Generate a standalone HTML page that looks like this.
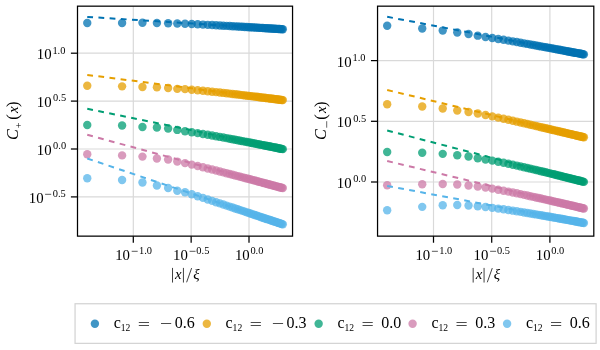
<!DOCTYPE html>
<html><head><meta charset="utf-8"><style>
html,body{margin:0;padding:0;background:#fff;width:600px;height:350px;overflow:hidden;position:relative;font-family:"Liberation Serif",serif;}
svg text{font-family:"Liberation Serif",serif;fill:#000;}
svg{will-change:transform;}
</style></head><body>
<svg width="600" height="350" viewBox="0 0 600 350" style="position:absolute;left:0;top:0">
<defs><clipPath id="clipL"><rect x="77.5" y="6.17" width="215.05" height="229.97"/></clipPath></defs>
<g stroke="#d9d9d9" stroke-width="1.2"><line x1="133.30" y1="6.17" x2="133.30" y2="236.14"/><line x1="191.15" y1="6.17" x2="191.15" y2="236.14"/><line x1="249.00" y1="6.17" x2="249.00" y2="236.14"/><line x1="77.5" y1="196.90" x2="292.55" y2="196.90"/><line x1="77.5" y1="149.00" x2="292.55" y2="149.00"/><line x1="77.5" y1="101.10" x2="292.55" y2="101.10"/><line x1="77.5" y1="53.20" x2="292.55" y2="53.20"/></g>
<g clip-path="url(#clipL)">
<g fill="#0072b2" fill-opacity="0.75"><circle cx="87.26" cy="23.00" r="4.2"/><circle cx="122.09" cy="22.99" r="4.2"/><circle cx="142.46" cy="22.77" r="4.2"/><circle cx="156.92" cy="22.98" r="4.2"/><circle cx="168.13" cy="23.29" r="4.2"/><circle cx="177.29" cy="23.56" r="4.2"/><circle cx="185.04" cy="23.75" r="4.2"/><circle cx="191.75" cy="24.04" r="4.2"/><circle cx="197.66" cy="24.32" r="4.2"/><circle cx="202.96" cy="24.59" r="4.2"/><circle cx="207.75" cy="24.83" r="4.2"/><circle cx="212.12" cy="25.07" r="4.2"/><circle cx="216.14" cy="25.28" r="4.2"/><circle cx="219.87" cy="25.49" r="4.2"/><circle cx="223.33" cy="25.68" r="4.2"/><circle cx="226.58" cy="25.87" r="4.2"/><circle cx="229.62" cy="26.04" r="4.2"/><circle cx="232.49" cy="26.20" r="4.2"/><circle cx="235.21" cy="26.36" r="4.2"/><circle cx="237.79" cy="26.51" r="4.2"/><circle cx="240.24" cy="26.66" r="4.2"/><circle cx="242.58" cy="26.79" r="4.2"/><circle cx="244.81" cy="26.93" r="4.2"/><circle cx="246.95" cy="27.05" r="4.2"/><circle cx="249.00" cy="27.18" r="4.2"/><circle cx="250.97" cy="27.29" r="4.2"/><circle cx="252.87" cy="27.41" r="4.2"/><circle cx="254.69" cy="27.52" r="4.2"/><circle cx="256.46" cy="27.63" r="4.2"/><circle cx="258.16" cy="27.73" r="4.2"/><circle cx="259.81" cy="27.83" r="4.2"/><circle cx="261.40" cy="27.92" r="4.2"/><circle cx="262.95" cy="28.02" r="4.2"/><circle cx="264.45" cy="28.11" r="4.2"/><circle cx="265.91" cy="28.20" r="4.2"/><circle cx="267.32" cy="28.29" r="4.2"/><circle cx="268.70" cy="28.37" r="4.2"/><circle cx="270.04" cy="28.45" r="4.2"/><circle cx="271.34" cy="28.53" r="4.2"/><circle cx="272.62" cy="28.61" r="4.2"/><circle cx="273.86" cy="28.69" r="4.2"/><circle cx="275.07" cy="28.76" r="4.2"/><circle cx="276.25" cy="28.83" r="4.2"/><circle cx="277.41" cy="28.90" r="4.2"/><circle cx="278.54" cy="28.97" r="4.2"/><circle cx="279.64" cy="29.04" r="4.2"/><circle cx="280.72" cy="29.11" r="4.2"/><circle cx="281.78" cy="29.17" r="4.2"/><circle cx="282.81" cy="29.24" r="4.2"/></g>
<line x1="87.26" y1="16.90" x2="282.81" y2="29.20" stroke="#0072b2" stroke-width="2.0" stroke-dasharray="5.8 5.4"/>
<g fill="#e69f00" fill-opacity="0.75"><circle cx="87.26" cy="85.70" r="4.2"/><circle cx="122.09" cy="86.37" r="4.2"/><circle cx="142.46" cy="86.99" r="4.2"/><circle cx="156.92" cy="87.24" r="4.2"/><circle cx="168.13" cy="87.98" r="4.2"/><circle cx="177.29" cy="88.86" r="4.2"/><circle cx="185.04" cy="89.15" r="4.2"/><circle cx="191.75" cy="89.70" r="4.2"/><circle cx="197.66" cy="90.24" r="4.2"/><circle cx="202.96" cy="90.75" r="4.2"/><circle cx="207.75" cy="91.23" r="4.2"/><circle cx="212.12" cy="91.68" r="4.2"/><circle cx="216.14" cy="92.11" r="4.2"/><circle cx="219.87" cy="92.52" r="4.2"/><circle cx="223.33" cy="92.91" r="4.2"/><circle cx="226.58" cy="93.27" r="4.2"/><circle cx="229.62" cy="93.62" r="4.2"/><circle cx="232.49" cy="93.95" r="4.2"/><circle cx="235.21" cy="94.27" r="4.2"/><circle cx="237.79" cy="94.57" r="4.2"/><circle cx="240.24" cy="94.86" r="4.2"/><circle cx="242.58" cy="95.14" r="4.2"/><circle cx="244.81" cy="95.41" r="4.2"/><circle cx="246.95" cy="95.66" r="4.2"/><circle cx="249.00" cy="95.91" r="4.2"/><circle cx="250.97" cy="96.15" r="4.2"/><circle cx="252.87" cy="96.38" r="4.2"/><circle cx="254.69" cy="96.60" r="4.2"/><circle cx="256.46" cy="96.82" r="4.2"/><circle cx="258.16" cy="97.03" r="4.2"/><circle cx="259.81" cy="97.23" r="4.2"/><circle cx="261.40" cy="97.43" r="4.2"/><circle cx="262.95" cy="97.62" r="4.2"/><circle cx="264.45" cy="97.80" r="4.2"/><circle cx="265.91" cy="97.98" r="4.2"/><circle cx="267.32" cy="98.16" r="4.2"/><circle cx="268.70" cy="98.33" r="4.2"/><circle cx="270.04" cy="98.49" r="4.2"/><circle cx="271.34" cy="98.66" r="4.2"/><circle cx="272.62" cy="98.82" r="4.2"/><circle cx="273.86" cy="98.97" r="4.2"/><circle cx="275.07" cy="99.12" r="4.2"/><circle cx="276.25" cy="99.27" r="4.2"/><circle cx="277.41" cy="99.41" r="4.2"/><circle cx="278.54" cy="99.56" r="4.2"/><circle cx="279.64" cy="99.69" r="4.2"/><circle cx="280.72" cy="99.83" r="4.2"/><circle cx="281.78" cy="99.96" r="4.2"/><circle cx="282.81" cy="100.09" r="4.2"/></g>
<line x1="87.26" y1="74.90" x2="282.81" y2="100.00" stroke="#e69f00" stroke-width="2.0" stroke-dasharray="5.8 5.4"/>
<g fill="#009e73" fill-opacity="0.75"><circle cx="87.26" cy="125.00" r="4.2"/><circle cx="122.09" cy="125.56" r="4.2"/><circle cx="142.46" cy="127.05" r="4.2"/><circle cx="156.92" cy="127.52" r="4.2"/><circle cx="168.13" cy="128.52" r="4.2"/><circle cx="177.29" cy="129.91" r="4.2"/><circle cx="185.04" cy="131.30" r="4.2"/><circle cx="191.75" cy="132.24" r="4.2"/><circle cx="197.66" cy="133.14" r="4.2"/><circle cx="202.96" cy="133.99" r="4.2"/><circle cx="207.75" cy="134.79" r="4.2"/><circle cx="212.12" cy="135.54" r="4.2"/><circle cx="216.14" cy="136.24" r="4.2"/><circle cx="219.87" cy="136.91" r="4.2"/><circle cx="223.33" cy="137.54" r="4.2"/><circle cx="226.58" cy="138.13" r="4.2"/><circle cx="229.62" cy="138.70" r="4.2"/><circle cx="232.49" cy="139.24" r="4.2"/><circle cx="235.21" cy="139.75" r="4.2"/><circle cx="237.79" cy="140.24" r="4.2"/><circle cx="240.24" cy="140.71" r="4.2"/><circle cx="242.58" cy="141.16" r="4.2"/><circle cx="244.81" cy="141.59" r="4.2"/><circle cx="246.95" cy="142.01" r="4.2"/><circle cx="249.00" cy="142.40" r="4.2"/><circle cx="250.97" cy="142.79" r="4.2"/><circle cx="252.87" cy="143.16" r="4.2"/><circle cx="254.69" cy="143.52" r="4.2"/><circle cx="256.46" cy="143.87" r="4.2"/><circle cx="258.16" cy="144.20" r="4.2"/><circle cx="259.81" cy="144.53" r="4.2"/><circle cx="261.40" cy="144.84" r="4.2"/><circle cx="262.95" cy="145.15" r="4.2"/><circle cx="264.45" cy="145.45" r="4.2"/><circle cx="265.91" cy="145.74" r="4.2"/><circle cx="267.32" cy="146.02" r="4.2"/><circle cx="268.70" cy="146.30" r="4.2"/><circle cx="270.04" cy="146.56" r="4.2"/><circle cx="271.34" cy="146.82" r="4.2"/><circle cx="272.62" cy="147.08" r="4.2"/><circle cx="273.86" cy="147.33" r="4.2"/><circle cx="275.07" cy="147.57" r="4.2"/><circle cx="276.25" cy="147.81" r="4.2"/><circle cx="277.41" cy="148.04" r="4.2"/><circle cx="278.54" cy="148.27" r="4.2"/><circle cx="279.64" cy="148.49" r="4.2"/><circle cx="280.72" cy="148.71" r="4.2"/><circle cx="281.78" cy="148.92" r="4.2"/><circle cx="282.81" cy="149.13" r="4.2"/></g>
<line x1="87.26" y1="108.80" x2="282.81" y2="149.00" stroke="#009e73" stroke-width="2.0" stroke-dasharray="5.8 5.4"/>
<g fill="#cc79a7" fill-opacity="0.75"><circle cx="87.26" cy="154.20" r="4.2"/><circle cx="122.09" cy="155.38" r="4.2"/><circle cx="142.46" cy="156.62" r="4.2"/><circle cx="156.92" cy="158.55" r="4.2"/><circle cx="168.13" cy="159.50" r="4.2"/><circle cx="177.29" cy="161.59" r="4.2"/><circle cx="185.04" cy="163.10" r="4.2"/><circle cx="191.75" cy="164.62" r="4.2"/><circle cx="197.66" cy="166.00" r="4.2"/><circle cx="202.96" cy="167.27" r="4.2"/><circle cx="207.75" cy="168.44" r="4.2"/><circle cx="212.12" cy="169.53" r="4.2"/><circle cx="216.14" cy="170.53" r="4.2"/><circle cx="219.87" cy="171.48" r="4.2"/><circle cx="223.33" cy="172.36" r="4.2"/><circle cx="226.58" cy="173.19" r="4.2"/><circle cx="229.62" cy="173.98" r="4.2"/><circle cx="232.49" cy="174.72" r="4.2"/><circle cx="235.21" cy="175.43" r="4.2"/><circle cx="237.79" cy="176.10" r="4.2"/><circle cx="240.24" cy="176.74" r="4.2"/><circle cx="242.58" cy="177.36" r="4.2"/><circle cx="244.81" cy="177.95" r="4.2"/><circle cx="246.95" cy="178.51" r="4.2"/><circle cx="249.00" cy="179.05" r="4.2"/><circle cx="250.97" cy="179.57" r="4.2"/><circle cx="252.87" cy="180.08" r="4.2"/><circle cx="254.69" cy="180.56" r="4.2"/><circle cx="256.46" cy="181.03" r="4.2"/><circle cx="258.16" cy="181.48" r="4.2"/><circle cx="259.81" cy="181.92" r="4.2"/><circle cx="261.40" cy="182.35" r="4.2"/><circle cx="262.95" cy="182.76" r="4.2"/><circle cx="264.45" cy="183.16" r="4.2"/><circle cx="265.91" cy="183.55" r="4.2"/><circle cx="267.32" cy="183.93" r="4.2"/><circle cx="268.70" cy="184.30" r="4.2"/><circle cx="270.04" cy="184.66" r="4.2"/><circle cx="271.34" cy="185.01" r="4.2"/><circle cx="272.62" cy="185.35" r="4.2"/><circle cx="273.86" cy="185.68" r="4.2"/><circle cx="275.07" cy="186.01" r="4.2"/><circle cx="276.25" cy="186.33" r="4.2"/><circle cx="277.41" cy="186.64" r="4.2"/><circle cx="278.54" cy="186.94" r="4.2"/><circle cx="279.64" cy="187.24" r="4.2"/><circle cx="280.72" cy="187.53" r="4.2"/><circle cx="281.78" cy="187.81" r="4.2"/><circle cx="282.81" cy="188.09" r="4.2"/></g>
<line x1="87.26" y1="134.80" x2="282.81" y2="188.00" stroke="#cc79a7" stroke-width="2.0" stroke-dasharray="5.8 5.4"/>
<g fill="#56b4e9" fill-opacity="0.75"><circle cx="87.26" cy="178.20" r="4.2"/><circle cx="122.09" cy="180.02" r="4.2"/><circle cx="142.46" cy="182.57" r="4.2"/><circle cx="156.92" cy="185.54" r="4.2"/><circle cx="168.13" cy="188.01" r="4.2"/><circle cx="177.29" cy="190.69" r="4.2"/><circle cx="185.04" cy="192.20" r="4.2"/><circle cx="191.75" cy="194.31" r="4.2"/><circle cx="197.66" cy="196.20" r="4.2"/><circle cx="202.96" cy="197.90" r="4.2"/><circle cx="207.75" cy="199.45" r="4.2"/><circle cx="212.12" cy="200.87" r="4.2"/><circle cx="216.14" cy="202.18" r="4.2"/><circle cx="219.87" cy="203.40" r="4.2"/><circle cx="223.33" cy="204.54" r="4.2"/><circle cx="226.58" cy="205.61" r="4.2"/><circle cx="229.62" cy="206.61" r="4.2"/><circle cx="232.49" cy="207.56" r="4.2"/><circle cx="235.21" cy="208.46" r="4.2"/><circle cx="237.79" cy="209.32" r="4.2"/><circle cx="240.24" cy="210.13" r="4.2"/><circle cx="242.58" cy="210.90" r="4.2"/><circle cx="244.81" cy="211.65" r="4.2"/><circle cx="246.95" cy="212.36" r="4.2"/><circle cx="249.00" cy="213.04" r="4.2"/><circle cx="250.97" cy="213.70" r="4.2"/><circle cx="252.87" cy="214.33" r="4.2"/><circle cx="254.69" cy="214.94" r="4.2"/><circle cx="256.46" cy="215.53" r="4.2"/><circle cx="258.16" cy="216.10" r="4.2"/><circle cx="259.81" cy="216.65" r="4.2"/><circle cx="261.40" cy="217.18" r="4.2"/><circle cx="262.95" cy="217.69" r="4.2"/><circle cx="264.45" cy="218.20" r="4.2"/><circle cx="265.91" cy="218.68" r="4.2"/><circle cx="267.32" cy="219.16" r="4.2"/><circle cx="268.70" cy="219.62" r="4.2"/><circle cx="270.04" cy="220.06" r="4.2"/><circle cx="271.34" cy="220.50" r="4.2"/><circle cx="272.62" cy="220.93" r="4.2"/><circle cx="273.86" cy="221.34" r="4.2"/><circle cx="275.07" cy="221.75" r="4.2"/><circle cx="276.25" cy="222.14" r="4.2"/><circle cx="277.41" cy="222.53" r="4.2"/><circle cx="278.54" cy="222.91" r="4.2"/><circle cx="279.64" cy="223.28" r="4.2"/><circle cx="280.72" cy="223.64" r="4.2"/><circle cx="281.78" cy="224.00" r="4.2"/><circle cx="282.81" cy="224.34" r="4.2"/></g>
<line x1="87.26" y1="158.50" x2="282.81" y2="224.30" stroke="#56b4e9" stroke-width="2.0" stroke-dasharray="5.8 5.4"/>
</g>
<rect x="77.5" y="6.17" width="215.05" height="229.97" fill="none" stroke="#000" stroke-width="1.25"/>
<g stroke="#000" stroke-width="1.25"><line x1="133.30" y1="236.14" x2="133.30" y2="242.74"/><line x1="191.15" y1="236.14" x2="191.15" y2="242.74"/><line x1="249.00" y1="236.14" x2="249.00" y2="242.74"/><line x1="70.90" y1="196.90" x2="77.5" y2="196.90"/><line x1="70.90" y1="149.00" x2="77.5" y2="149.00"/><line x1="70.90" y1="101.10" x2="77.5" y2="101.10"/><line x1="70.90" y1="53.20" x2="77.5" y2="53.20"/></g>
<text x="115.20" y="260.20" font-size="14.8" fill="#222">10</text><line x1="131.70" y1="251.30" x2="137.70" y2="251.30" stroke="#000" stroke-width="0.65"/><text x="139.00" y="254.40" font-size="10.4" fill="#3a3a3a">1.0</text><text x="173.05" y="260.20" font-size="14.8" fill="#222">10</text><line x1="189.55" y1="251.30" x2="195.55" y2="251.30" stroke="#000" stroke-width="0.65"/><text x="196.35" y="254.40" font-size="10.4" fill="#3a3a3a">0.5</text><text x="234.90" y="260.20" font-size="14.8" fill="#222">10</text><text x="250.40" y="254.40" font-size="10.4" fill="#3a3a3a">0.0</text><text x="28.80" y="202.90" font-size="14.8" fill="#222">10</text><line x1="45.10" y1="194.30" x2="51.20" y2="194.30" stroke="#000" stroke-width="0.65"/><text x="52.70" y="197.20" font-size="10.4" fill="#3a3a3a">0.5</text><text x="36.80" y="155.00" font-size="14.8" fill="#222">10</text><text x="53.10" y="149.30" font-size="10.4" fill="#3a3a3a">0.0</text><text x="36.80" y="107.10" font-size="14.8" fill="#222">10</text><text x="53.10" y="101.40" font-size="10.4" fill="#3a3a3a">0.5</text><text x="36.80" y="59.20" font-size="14.8" fill="#222">10</text><text x="52.40" y="53.50" font-size="10.4" fill="#3a3a3a">1.0</text>
<line x1="172.53" y1="267.90" x2="172.53" y2="282.55" stroke="#000" stroke-width="0.75"/><text x="175.03" y="278.80" font-size="14.8" font-style="italic" fill="#222">x</text><line x1="183.43" y1="267.90" x2="183.43" y2="282.55" stroke="#000" stroke-width="0.75"/><line x1="186.62" y1="282.30" x2="191.62" y2="268.10" stroke="#000" stroke-width="0.75"/><text x="193.22" y="278.80" font-size="14.8" font-style="italic" fill="#222">ξ</text>
<g transform="translate(17.6,138.8) rotate(-90)"><text x="-1.20" y="0.00" font-size="16.2" font-style="italic" fill="#303030">C</text><text x="10.60" y="4.00" font-size="10.4" fill="#3a3a3a">+</text><text x="19.10" y="0.00" font-size="16.3" fill="#383838">(</text><text x="25.80" y="0.00" font-size="15" font-style="italic" fill="#303030">x</text><text x="31.80" y="0.00" font-size="16.3" fill="#383838">)</text></g>
<defs><clipPath id="clipR"><rect x="377.55" y="6.17" width="216.25" height="229.97"/></clipPath></defs>
<g stroke="#d9d9d9" stroke-width="1.2"><line x1="433.50" y1="6.17" x2="433.50" y2="236.14"/><line x1="491.70" y1="6.17" x2="491.70" y2="236.14"/><line x1="549.90" y1="6.17" x2="549.90" y2="236.14"/><line x1="377.55" y1="182.00" x2="593.8" y2="182.00"/><line x1="377.55" y1="121.30" x2="593.8" y2="121.30"/><line x1="377.55" y1="60.60" x2="593.8" y2="60.60"/></g>
<g clip-path="url(#clipR)">
<g fill="#0072b2" fill-opacity="0.75"><circle cx="387.18" cy="25.80" r="4.2"/><circle cx="422.22" cy="28.48" r="4.2"/><circle cx="442.72" cy="30.59" r="4.2"/><circle cx="457.26" cy="32.46" r="4.2"/><circle cx="468.54" cy="34.01" r="4.2"/><circle cx="477.76" cy="35.66" r="4.2"/><circle cx="485.55" cy="36.95" r="4.2"/><circle cx="492.30" cy="37.98" r="4.2"/><circle cx="498.25" cy="38.93" r="4.2"/><circle cx="503.58" cy="39.81" r="4.2"/><circle cx="508.40" cy="40.62" r="4.2"/><circle cx="512.80" cy="41.37" r="4.2"/><circle cx="516.84" cy="42.07" r="4.2"/><circle cx="520.59" cy="42.72" r="4.2"/><circle cx="524.08" cy="43.34" r="4.2"/><circle cx="527.34" cy="43.92" r="4.2"/><circle cx="530.40" cy="44.47" r="4.2"/><circle cx="533.29" cy="44.99" r="4.2"/><circle cx="536.03" cy="45.48" r="4.2"/><circle cx="538.62" cy="45.96" r="4.2"/><circle cx="541.09" cy="46.41" r="4.2"/><circle cx="543.44" cy="46.84" r="4.2"/><circle cx="545.68" cy="47.25" r="4.2"/><circle cx="547.84" cy="47.64" r="4.2"/><circle cx="549.90" cy="48.02" r="4.2"/><circle cx="551.88" cy="48.39" r="4.2"/><circle cx="553.79" cy="48.74" r="4.2"/><circle cx="555.63" cy="49.08" r="4.2"/><circle cx="557.40" cy="49.41" r="4.2"/><circle cx="559.12" cy="49.73" r="4.2"/><circle cx="560.77" cy="50.04" r="4.2"/><circle cx="562.38" cy="50.34" r="4.2"/><circle cx="563.93" cy="50.63" r="4.2"/><circle cx="565.44" cy="50.91" r="4.2"/><circle cx="566.91" cy="51.18" r="4.2"/><circle cx="568.33" cy="51.45" r="4.2"/><circle cx="569.72" cy="51.71" r="4.2"/><circle cx="571.07" cy="51.96" r="4.2"/><circle cx="572.38" cy="52.21" r="4.2"/><circle cx="573.66" cy="52.45" r="4.2"/><circle cx="574.91" cy="52.68" r="4.2"/><circle cx="576.13" cy="52.91" r="4.2"/><circle cx="577.32" cy="53.13" r="4.2"/><circle cx="578.48" cy="53.35" r="4.2"/><circle cx="579.61" cy="53.57" r="4.2"/><circle cx="580.72" cy="53.77" r="4.2"/><circle cx="581.81" cy="53.98" r="4.2"/><circle cx="582.88" cy="54.18" r="4.2"/><circle cx="583.92" cy="54.38" r="4.2"/></g>
<line x1="387.18" y1="16.80" x2="583.92" y2="54.30" stroke="#0072b2" stroke-width="2.0" stroke-dasharray="5.8 5.4"/>
<g fill="#e69f00" fill-opacity="0.75"><circle cx="387.18" cy="104.30" r="4.2"/><circle cx="422.22" cy="106.51" r="4.2"/><circle cx="442.72" cy="108.52" r="4.2"/><circle cx="457.26" cy="110.51" r="4.2"/><circle cx="468.54" cy="112.02" r="4.2"/><circle cx="477.76" cy="113.53" r="4.2"/><circle cx="485.55" cy="115.00" r="4.2"/><circle cx="492.30" cy="116.37" r="4.2"/><circle cx="498.25" cy="117.61" r="4.2"/><circle cx="503.58" cy="118.75" r="4.2"/><circle cx="508.40" cy="119.79" r="4.2"/><circle cx="512.80" cy="120.76" r="4.2"/><circle cx="516.84" cy="121.66" r="4.2"/><circle cx="520.59" cy="122.50" r="4.2"/><circle cx="524.08" cy="123.29" r="4.2"/><circle cx="527.34" cy="124.03" r="4.2"/><circle cx="530.40" cy="124.73" r="4.2"/><circle cx="533.29" cy="125.39" r="4.2"/><circle cx="536.03" cy="126.02" r="4.2"/><circle cx="538.62" cy="126.62" r="4.2"/><circle cx="541.09" cy="127.19" r="4.2"/><circle cx="543.44" cy="127.74" r="4.2"/><circle cx="545.68" cy="128.26" r="4.2"/><circle cx="547.84" cy="128.76" r="4.2"/><circle cx="549.90" cy="129.25" r="4.2"/><circle cx="551.88" cy="129.71" r="4.2"/><circle cx="553.79" cy="130.16" r="4.2"/><circle cx="555.63" cy="130.59" r="4.2"/><circle cx="557.40" cy="131.00" r="4.2"/><circle cx="559.12" cy="131.41" r="4.2"/><circle cx="560.77" cy="131.80" r="4.2"/><circle cx="562.38" cy="132.18" r="4.2"/><circle cx="563.93" cy="132.54" r="4.2"/><circle cx="565.44" cy="132.90" r="4.2"/><circle cx="566.91" cy="133.24" r="4.2"/><circle cx="568.33" cy="133.58" r="4.2"/><circle cx="569.72" cy="133.91" r="4.2"/><circle cx="571.07" cy="134.23" r="4.2"/><circle cx="572.38" cy="134.54" r="4.2"/><circle cx="573.66" cy="134.84" r="4.2"/><circle cx="574.91" cy="135.14" r="4.2"/><circle cx="576.13" cy="135.43" r="4.2"/><circle cx="577.32" cy="135.71" r="4.2"/><circle cx="578.48" cy="135.98" r="4.2"/><circle cx="579.61" cy="136.25" r="4.2"/><circle cx="580.72" cy="136.52" r="4.2"/><circle cx="581.81" cy="136.78" r="4.2"/><circle cx="582.88" cy="137.03" r="4.2"/><circle cx="583.92" cy="137.28" r="4.2"/></g>
<line x1="387.18" y1="90.00" x2="583.92" y2="137.20" stroke="#e69f00" stroke-width="2.0" stroke-dasharray="5.8 5.4"/>
<g fill="#009e73" fill-opacity="0.75"><circle cx="387.18" cy="152.00" r="4.2"/><circle cx="422.22" cy="152.82" r="4.2"/><circle cx="442.72" cy="153.85" r="4.2"/><circle cx="457.26" cy="155.24" r="4.2"/><circle cx="468.54" cy="156.57" r="4.2"/><circle cx="477.76" cy="158.27" r="4.2"/><circle cx="485.55" cy="159.50" r="4.2"/><circle cx="492.30" cy="160.64" r="4.2"/><circle cx="498.25" cy="161.74" r="4.2"/><circle cx="503.58" cy="162.78" r="4.2"/><circle cx="508.40" cy="163.77" r="4.2"/><circle cx="512.80" cy="164.71" r="4.2"/><circle cx="516.84" cy="165.59" r="4.2"/><circle cx="520.59" cy="166.42" r="4.2"/><circle cx="524.08" cy="167.21" r="4.2"/><circle cx="527.34" cy="167.96" r="4.2"/><circle cx="530.40" cy="168.67" r="4.2"/><circle cx="533.29" cy="169.35" r="4.2"/><circle cx="536.03" cy="170.00" r="4.2"/><circle cx="538.62" cy="170.62" r="4.2"/><circle cx="541.09" cy="171.21" r="4.2"/><circle cx="543.44" cy="171.78" r="4.2"/><circle cx="545.68" cy="172.32" r="4.2"/><circle cx="547.84" cy="172.85" r="4.2"/><circle cx="549.90" cy="173.35" r="4.2"/><circle cx="551.88" cy="173.84" r="4.2"/><circle cx="553.79" cy="174.31" r="4.2"/><circle cx="555.63" cy="174.76" r="4.2"/><circle cx="557.40" cy="175.20" r="4.2"/><circle cx="559.12" cy="175.63" r="4.2"/><circle cx="560.77" cy="176.04" r="4.2"/><circle cx="562.38" cy="176.44" r="4.2"/><circle cx="563.93" cy="176.83" r="4.2"/><circle cx="565.44" cy="177.21" r="4.2"/><circle cx="566.91" cy="177.58" r="4.2"/><circle cx="568.33" cy="177.94" r="4.2"/><circle cx="569.72" cy="178.28" r="4.2"/><circle cx="571.07" cy="178.62" r="4.2"/><circle cx="572.38" cy="178.96" r="4.2"/><circle cx="573.66" cy="179.28" r="4.2"/><circle cx="574.91" cy="179.59" r="4.2"/><circle cx="576.13" cy="179.90" r="4.2"/><circle cx="577.32" cy="180.20" r="4.2"/><circle cx="578.48" cy="180.50" r="4.2"/><circle cx="579.61" cy="180.79" r="4.2"/><circle cx="580.72" cy="181.07" r="4.2"/><circle cx="581.81" cy="181.35" r="4.2"/><circle cx="582.88" cy="181.62" r="4.2"/><circle cx="583.92" cy="181.88" r="4.2"/></g>
<line x1="387.18" y1="130.50" x2="583.92" y2="181.70" stroke="#009e73" stroke-width="2.0" stroke-dasharray="5.8 5.4"/>
<g fill="#cc79a7" fill-opacity="0.75"><circle cx="387.18" cy="185.30" r="4.2"/><circle cx="422.22" cy="184.32" r="4.2"/><circle cx="442.72" cy="184.05" r="4.2"/><circle cx="457.26" cy="184.45" r="4.2"/><circle cx="468.54" cy="185.46" r="4.2"/><circle cx="477.76" cy="186.48" r="4.2"/><circle cx="485.55" cy="187.55" r="4.2"/><circle cx="492.30" cy="188.65" r="4.2"/><circle cx="498.25" cy="189.69" r="4.2"/><circle cx="503.58" cy="190.68" r="4.2"/><circle cx="508.40" cy="191.62" r="4.2"/><circle cx="512.80" cy="192.49" r="4.2"/><circle cx="516.84" cy="193.32" r="4.2"/><circle cx="520.59" cy="194.10" r="4.2"/><circle cx="524.08" cy="194.84" r="4.2"/><circle cx="527.34" cy="195.54" r="4.2"/><circle cx="530.40" cy="196.20" r="4.2"/><circle cx="533.29" cy="196.83" r="4.2"/><circle cx="536.03" cy="197.43" r="4.2"/><circle cx="538.62" cy="198.01" r="4.2"/><circle cx="541.09" cy="198.56" r="4.2"/><circle cx="543.44" cy="199.09" r="4.2"/><circle cx="545.68" cy="199.59" r="4.2"/><circle cx="547.84" cy="200.08" r="4.2"/><circle cx="549.90" cy="200.55" r="4.2"/><circle cx="551.88" cy="201.00" r="4.2"/><circle cx="553.79" cy="201.44" r="4.2"/><circle cx="555.63" cy="201.86" r="4.2"/><circle cx="557.40" cy="202.27" r="4.2"/><circle cx="559.12" cy="202.66" r="4.2"/><circle cx="560.77" cy="203.05" r="4.2"/><circle cx="562.38" cy="203.42" r="4.2"/><circle cx="563.93" cy="203.78" r="4.2"/><circle cx="565.44" cy="204.13" r="4.2"/><circle cx="566.91" cy="204.47" r="4.2"/><circle cx="568.33" cy="204.80" r="4.2"/><circle cx="569.72" cy="205.12" r="4.2"/><circle cx="571.07" cy="205.44" r="4.2"/><circle cx="572.38" cy="205.75" r="4.2"/><circle cx="573.66" cy="206.05" r="4.2"/><circle cx="574.91" cy="206.34" r="4.2"/><circle cx="576.13" cy="206.62" r="4.2"/><circle cx="577.32" cy="206.90" r="4.2"/><circle cx="578.48" cy="207.18" r="4.2"/><circle cx="579.61" cy="207.44" r="4.2"/><circle cx="580.72" cy="207.70" r="4.2"/><circle cx="581.81" cy="207.96" r="4.2"/><circle cx="582.88" cy="208.21" r="4.2"/><circle cx="583.92" cy="208.46" r="4.2"/></g>
<line x1="387.18" y1="161.00" x2="583.92" y2="208.30" stroke="#cc79a7" stroke-width="2.0" stroke-dasharray="5.8 5.4"/>
<g fill="#56b4e9" fill-opacity="0.75"><circle cx="387.18" cy="210.30" r="4.2"/><circle cx="422.22" cy="206.87" r="4.2"/><circle cx="442.72" cy="205.22" r="4.2"/><circle cx="457.26" cy="205.04" r="4.2"/><circle cx="468.54" cy="205.46" r="4.2"/><circle cx="477.76" cy="206.29" r="4.2"/><circle cx="485.55" cy="207.05" r="4.2"/><circle cx="492.30" cy="207.83" r="4.2"/><circle cx="498.25" cy="208.58" r="4.2"/><circle cx="503.58" cy="209.31" r="4.2"/><circle cx="508.40" cy="210.01" r="4.2"/><circle cx="512.80" cy="210.66" r="4.2"/><circle cx="516.84" cy="211.29" r="4.2"/><circle cx="520.59" cy="211.88" r="4.2"/><circle cx="524.08" cy="212.44" r="4.2"/><circle cx="527.34" cy="212.97" r="4.2"/><circle cx="530.40" cy="213.48" r="4.2"/><circle cx="533.29" cy="213.96" r="4.2"/><circle cx="536.03" cy="214.42" r="4.2"/><circle cx="538.62" cy="214.86" r="4.2"/><circle cx="541.09" cy="215.29" r="4.2"/><circle cx="543.44" cy="215.69" r="4.2"/><circle cx="545.68" cy="216.08" r="4.2"/><circle cx="547.84" cy="216.46" r="4.2"/><circle cx="549.90" cy="216.82" r="4.2"/><circle cx="551.88" cy="217.17" r="4.2"/><circle cx="553.79" cy="217.51" r="4.2"/><circle cx="555.63" cy="217.83" r="4.2"/><circle cx="557.40" cy="218.15" r="4.2"/><circle cx="559.12" cy="218.45" r="4.2"/><circle cx="560.77" cy="218.75" r="4.2"/><circle cx="562.38" cy="219.04" r="4.2"/><circle cx="563.93" cy="219.32" r="4.2"/><circle cx="565.44" cy="219.59" r="4.2"/><circle cx="566.91" cy="219.85" r="4.2"/><circle cx="568.33" cy="220.11" r="4.2"/><circle cx="569.72" cy="220.36" r="4.2"/><circle cx="571.07" cy="220.60" r="4.2"/><circle cx="572.38" cy="220.84" r="4.2"/><circle cx="573.66" cy="221.07" r="4.2"/><circle cx="574.91" cy="221.30" r="4.2"/><circle cx="576.13" cy="221.52" r="4.2"/><circle cx="577.32" cy="221.74" r="4.2"/><circle cx="578.48" cy="221.95" r="4.2"/><circle cx="579.61" cy="222.16" r="4.2"/><circle cx="580.72" cy="222.36" r="4.2"/><circle cx="581.81" cy="222.56" r="4.2"/><circle cx="582.88" cy="222.75" r="4.2"/><circle cx="583.92" cy="222.95" r="4.2"/></g>
<line x1="387.18" y1="185.90" x2="583.92" y2="222.80" stroke="#56b4e9" stroke-width="2.0" stroke-dasharray="5.8 5.4"/>
</g>
<rect x="377.55" y="6.17" width="216.25" height="229.97" fill="none" stroke="#000" stroke-width="1.25"/>
<g stroke="#000" stroke-width="1.25"><line x1="433.50" y1="236.14" x2="433.50" y2="242.74"/><line x1="491.70" y1="236.14" x2="491.70" y2="242.74"/><line x1="549.90" y1="236.14" x2="549.90" y2="242.74"/><line x1="370.95" y1="182.00" x2="377.55" y2="182.00"/><line x1="370.95" y1="121.30" x2="377.55" y2="121.30"/><line x1="370.95" y1="60.60" x2="377.55" y2="60.60"/></g>
<text x="415.40" y="260.20" font-size="14.8" fill="#222">10</text><line x1="431.90" y1="251.30" x2="437.90" y2="251.30" stroke="#000" stroke-width="0.65"/><text x="439.20" y="254.40" font-size="10.4" fill="#3a3a3a">1.0</text><text x="473.60" y="260.20" font-size="14.8" fill="#222">10</text><line x1="490.10" y1="251.30" x2="496.10" y2="251.30" stroke="#000" stroke-width="0.65"/><text x="496.90" y="254.40" font-size="10.4" fill="#3a3a3a">0.5</text><text x="535.80" y="260.20" font-size="14.8" fill="#222">10</text><text x="551.30" y="254.40" font-size="10.4" fill="#3a3a3a">0.0</text><text x="336.85" y="188.00" font-size="14.8" fill="#222">10</text><text x="353.15" y="182.30" font-size="10.4" fill="#3a3a3a">0.0</text><text x="336.85" y="127.30" font-size="14.8" fill="#222">10</text><text x="353.15" y="121.60" font-size="10.4" fill="#3a3a3a">0.5</text><text x="336.85" y="66.60" font-size="14.8" fill="#222">10</text><text x="352.45" y="60.90" font-size="10.4" fill="#3a3a3a">1.0</text>
<line x1="473.17" y1="267.90" x2="473.17" y2="282.55" stroke="#000" stroke-width="0.75"/><text x="475.67" y="278.80" font-size="14.8" font-style="italic" fill="#222">x</text><line x1="484.07" y1="267.90" x2="484.07" y2="282.55" stroke="#000" stroke-width="0.75"/><line x1="487.27" y1="282.30" x2="492.27" y2="268.10" stroke="#000" stroke-width="0.75"/><text x="493.87" y="278.80" font-size="14.8" font-style="italic" fill="#222">ξ</text>
<g transform="translate(326.1,138.8) rotate(-90)"><text x="-1.20" y="0.00" font-size="16.2" font-style="italic" fill="#303030">C</text><line x1="11.10" y1="0.60" x2="17.60" y2="0.60" stroke="#000" stroke-width="0.6"/><text x="19.10" y="0.00" font-size="16.3" fill="#383838">(</text><text x="25.80" y="0.00" font-size="15" font-style="italic" fill="#303030">x</text><text x="31.80" y="0.00" font-size="16.3" fill="#383838">)</text></g>
<rect x="75.05" y="303.75" width="521.05" height="39.6" fill="#fff" stroke="#d2d2d2" stroke-width="1.2"/>
<circle cx="94.9" cy="323.75" r="4.2" fill="#0072b2" fill-opacity="0.75"/>
<text x="113.70" y="327.60" font-size="16.0" fill="#222">c</text>
<text x="120.70" y="330.80" font-size="9.6" fill="#3a3a3a">12</text>
<line x1="138.80" y1="322.50" x2="149.00" y2="322.50" stroke="#000" stroke-width="0.7"/>
<line x1="138.80" y1="325.50" x2="149.00" y2="325.50" stroke="#000" stroke-width="0.7"/>
<line x1="161.00" y1="323.50" x2="171.20" y2="323.50" stroke="#000" stroke-width="0.7"/>
<text x="174.70" y="327.60" font-size="16.0" fill="#222">0.6</text>
<circle cx="206.8" cy="323.75" r="4.2" fill="#e69f00" fill-opacity="0.75"/>
<text x="225.60" y="327.60" font-size="16.0" fill="#222">c</text>
<text x="232.60" y="330.80" font-size="9.6" fill="#3a3a3a">12</text>
<line x1="250.70" y1="322.50" x2="260.90" y2="322.50" stroke="#000" stroke-width="0.7"/>
<line x1="250.70" y1="325.50" x2="260.90" y2="325.50" stroke="#000" stroke-width="0.7"/>
<line x1="272.90" y1="323.50" x2="283.10" y2="323.50" stroke="#000" stroke-width="0.7"/>
<text x="286.60" y="327.60" font-size="16.0" fill="#222">0.3</text>
<circle cx="318.65" cy="323.75" r="4.2" fill="#009e73" fill-opacity="0.75"/>
<text x="337.45" y="327.60" font-size="16.0" fill="#222">c</text>
<text x="344.45" y="330.80" font-size="9.6" fill="#3a3a3a">12</text>
<line x1="362.55" y1="322.50" x2="372.75" y2="322.50" stroke="#000" stroke-width="0.7"/>
<line x1="362.55" y1="325.50" x2="372.75" y2="325.50" stroke="#000" stroke-width="0.7"/>
<text x="381.25" y="327.60" font-size="16.0" fill="#222">0.0</text>
<circle cx="412.6" cy="323.75" r="4.2" fill="#cc79a7" fill-opacity="0.75"/>
<text x="431.40" y="327.60" font-size="16.0" fill="#222">c</text>
<text x="438.40" y="330.80" font-size="9.6" fill="#3a3a3a">12</text>
<line x1="456.50" y1="322.50" x2="466.70" y2="322.50" stroke="#000" stroke-width="0.7"/>
<line x1="456.50" y1="325.50" x2="466.70" y2="325.50" stroke="#000" stroke-width="0.7"/>
<text x="475.20" y="327.60" font-size="16.0" fill="#222">0.3</text>
<circle cx="507.1" cy="323.75" r="4.2" fill="#56b4e9" fill-opacity="0.75"/>
<text x="525.90" y="327.60" font-size="16.0" fill="#222">c</text>
<text x="532.90" y="330.80" font-size="9.6" fill="#3a3a3a">12</text>
<line x1="551.00" y1="322.50" x2="561.20" y2="322.50" stroke="#000" stroke-width="0.7"/>
<line x1="551.00" y1="325.50" x2="561.20" y2="325.50" stroke="#000" stroke-width="0.7"/>
<text x="569.70" y="327.60" font-size="16.0" fill="#222">0.6</text>
</svg>
</body></html>
